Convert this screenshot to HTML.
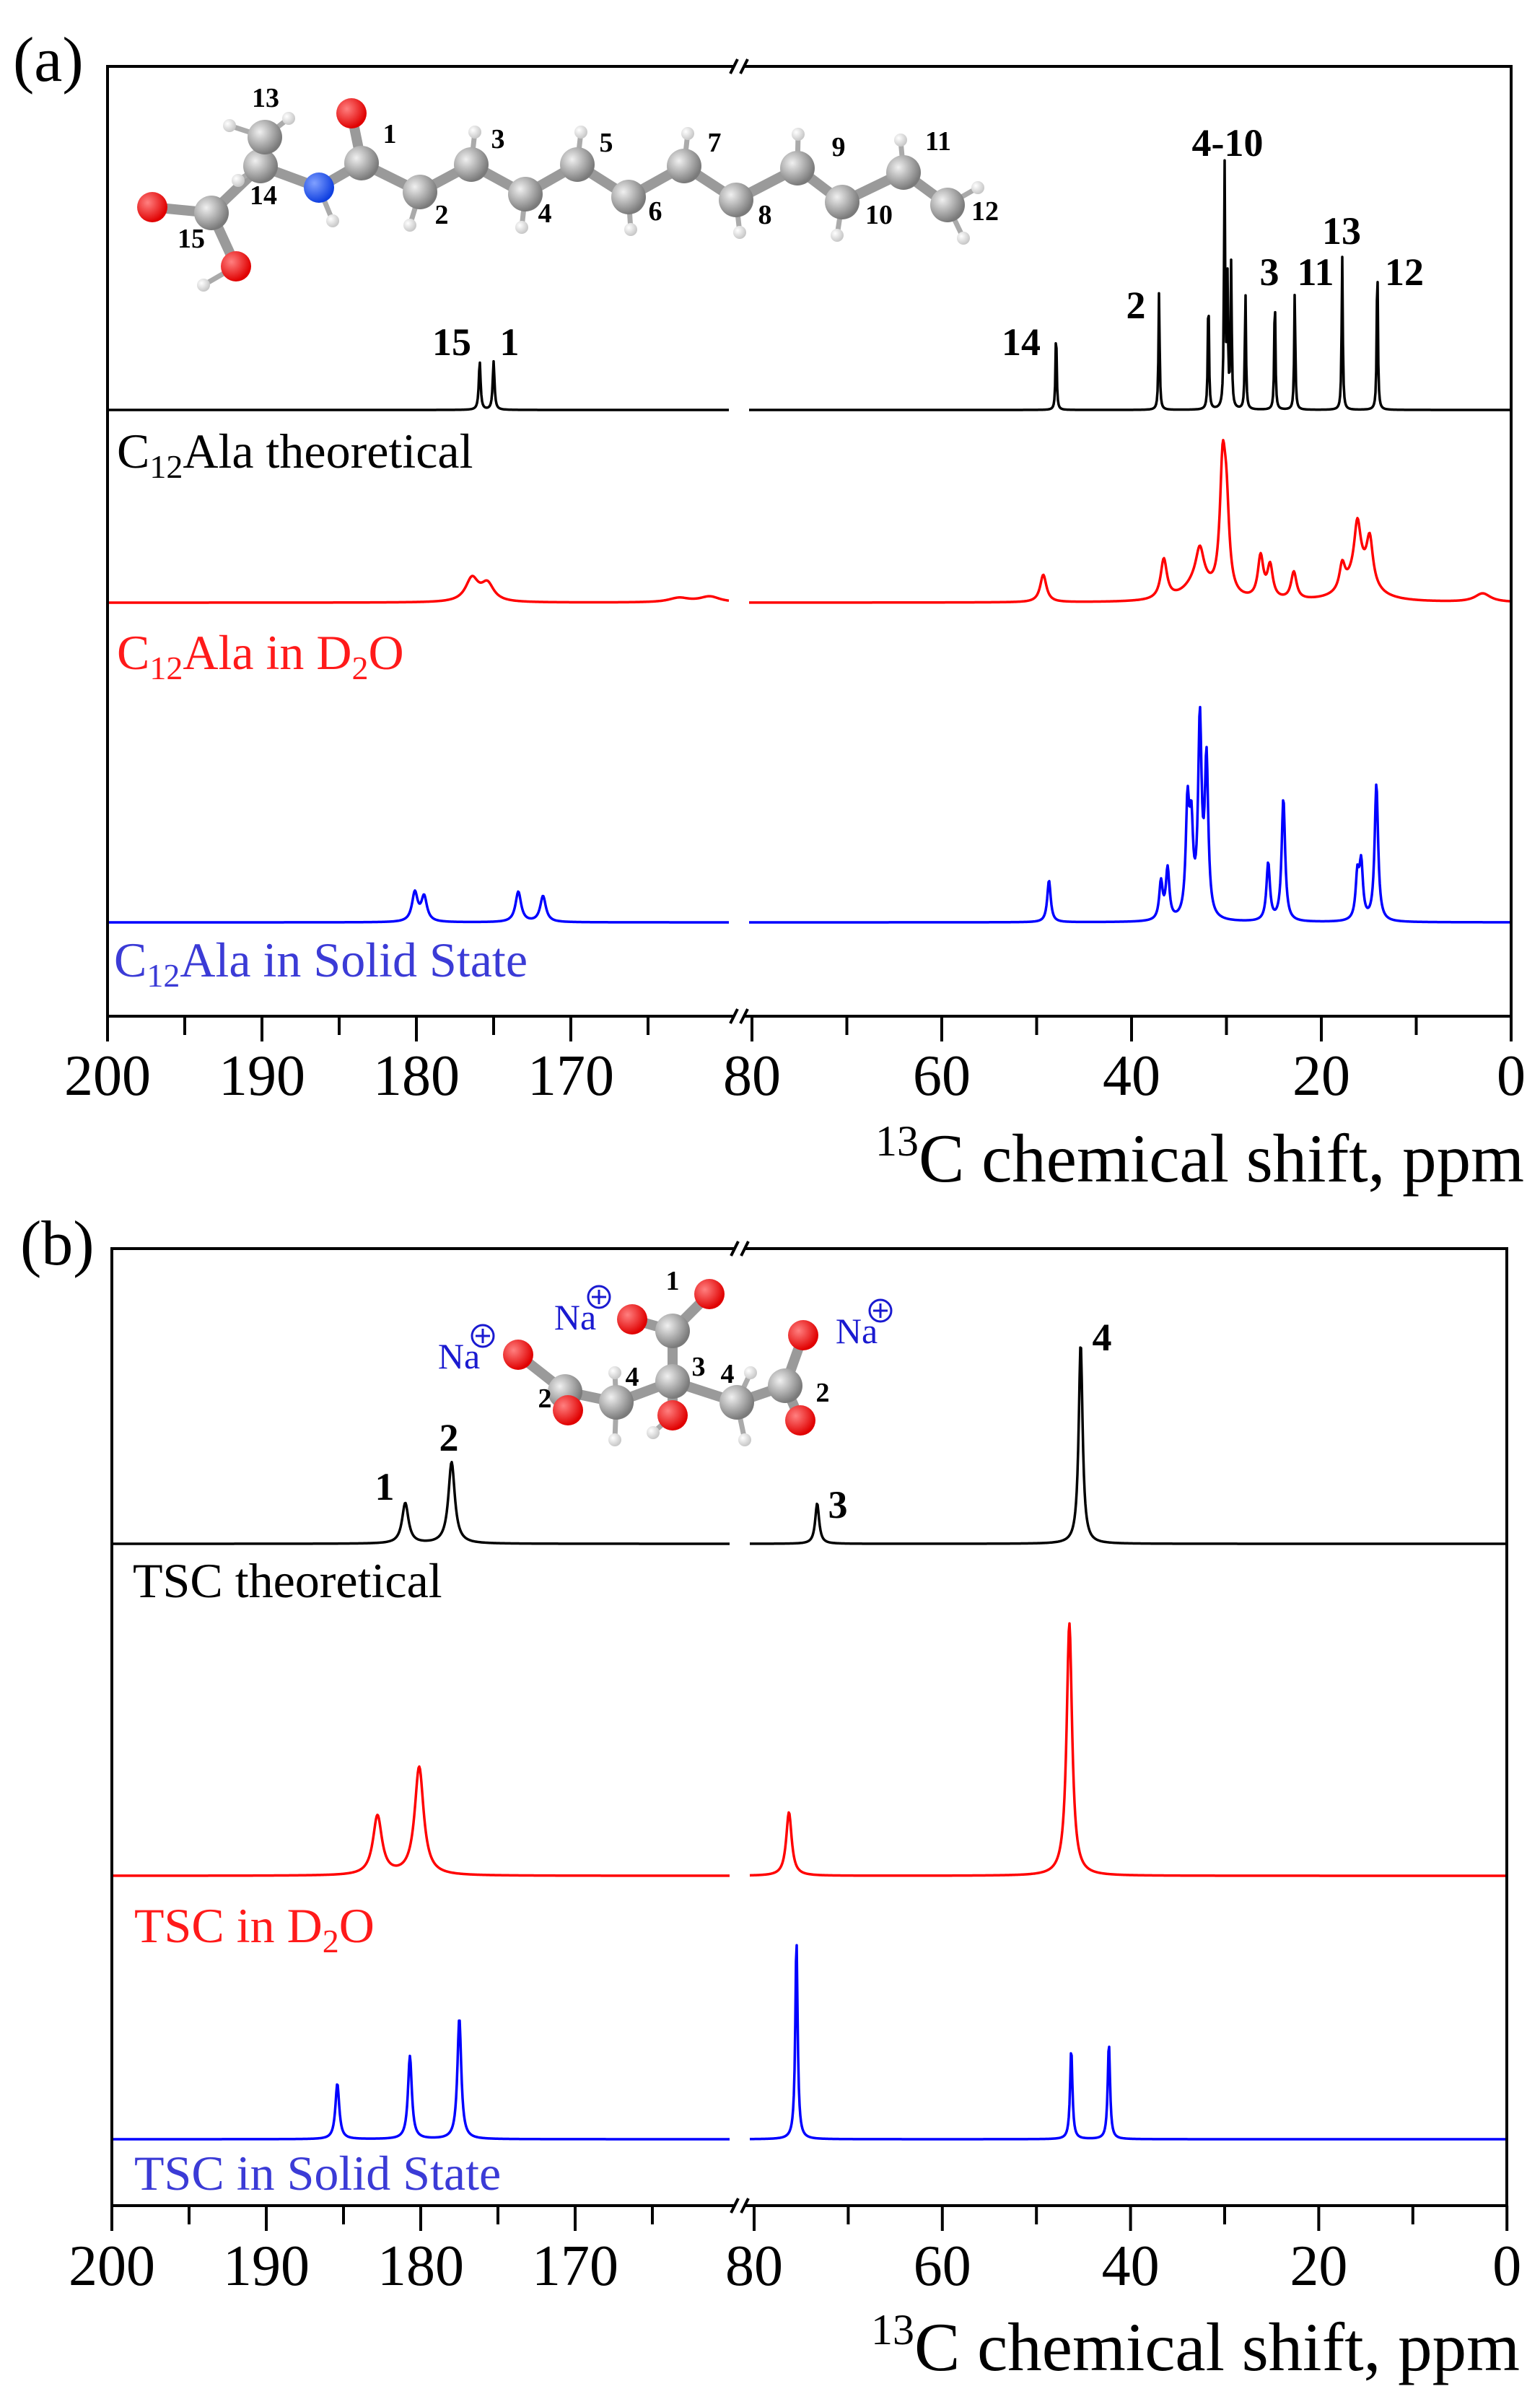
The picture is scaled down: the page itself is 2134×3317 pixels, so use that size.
<!DOCTYPE html>
<html><head><meta charset="utf-8">
<style>
html,body{margin:0;padding:0;background:#fff;}
svg{display:block;}
text{font-family:"Liberation Serif","Times New Roman",serif;}
</style></head>
<body>
<svg id="fig" xmlns="http://www.w3.org/2000/svg" width="2134" height="3317" viewBox="0 0 2134 3317">
<g id="molA"></g>
<g id="molB"></g>
</svg>
<script>
// ---------- DATA ----------
const tickMajorLeft = [200,190,180,170];
const tickMinorLeft = [195,185,175,165];
const tickMajorRight = [80,60,40,20,0];
const tickMinorRight = [70,50,30,10];

// Panel (a) peaks: ppm positions and intensities (a.u.)
const aTheoPpm = [175.9,175.0,47.95,37.1,31.9,30.2,29.9,29.5,28.0,24.9,22.8,17.8,14.1];
const aTheoInt = [67,67,115,165,165,340,180,200,165,165,165,213,213];
const aD2OPpm = [176.4,175.4,163,161,49.3,36.6,33,32.8,30.4,30.0,26.4,25.4,22.9,17.8,16,16.2,14.9,3];
const aD2OInt = [32,24,6,8,38,55,28,45,165,105,58,45,38,35,40,70,62,12];
const aD2OWid = [0.5,0.5,0.8,0.8,0.4,0.4,1.6,0.5,0.35,0.35,0.35,0.35,0.35,0.35,1.6,0.4,0.4,1.0];
const aSolPpm = [180.1,179.5,173.4,171.8,48.7,36.9,36.2,34.1,33.7,32.8,32.1,25.6,24.0,16.2,15.8,14.2];
const aSolInt = [40,34,42,36,58,52,70,150,115,270,215,80,170,60,75,190];

// Panel (b) peaks
const bTheoPpm = [181,178,73.3,45.3];
const bTheoInt = [56,113,56,278];
const bD2OPpm = [182.8,180.1,76.3,46.5];
const bD2OInt = [82,150,88,350];
const bSolPpm = [185.4,180.7,177.5,75.5,46.3,42.3];
const bSolInt = [77,115,168,276,125,133];

// ---------- HELPERS ----------
const NS="http://www.w3.org/2000/svg";
const svg=document.getElementById('fig');
function el(tag,attrs,parent){const e=document.createElementNS(NS,tag);for(const k in attrs)e.setAttribute(k,attrs[k]);(parent||svg).appendChild(e);return e;}

function makePanel(P){
  const xL=p=>P.left+(200-p)*P.kL;
  const xR=p=>P.r80+(80-p)*P.kR;
  P.xL=xL;P.xR=xR;
  const g=el('g',{});
  
  
  const fr=el('rect',{x:P.left,y:P.top,width:P.right-P.left,height:P.bottom-P.top,fill:'none',stroke:'#000','stroke-width':4},g);
  
  
  [P.top,P.bottom].forEach((yy,i)=>{
    const bg=el('g',{},g);
    
    
    el('rect',{x:P.brk-8,y:yy-4,width:16,height:8,fill:'#fff'},bg);
    el('line',{x1:P.brk-12,y1:yy+10,x2:P.brk-2,y2:yy-10,stroke:'#000','stroke-width':4},bg);
    el('line',{x1:P.brk+2,y1:yy+10,x2:P.brk+12,y2:yy-10,stroke:'#000','stroke-width':4},bg);
  });
  const tg=el('g',{},g);
  
  
  function tick(x,len,lab){
    el('line',{x1:x,y1:P.bottom,x2:x,y2:P.bottom+len,stroke:'#000','stroke-width':4},tg);
    if(lab!==undefined){
      const t=el('text',{x:x,y:P.tickY,'font-size':80,'text-anchor':'middle',fill:'#000'},tg);
      t.textContent=lab;
      
      
    }
  }
  tickMajorLeft.forEach(v=>tick(xL(v),35,String(v)));
  tickMinorLeft.forEach(v=>tick(xL(v),26));
  tickMajorRight.forEach(v=>tick(xR(v),35,String(v)));
  tickMinorRight.forEach(v=>tick(xR(v),26));
  const at=el('text',{x:P.right+18,y:P.titleY,'font-size':95,'text-anchor':'end',fill:'#000'},g);
  at.innerHTML='<tspan font-size="60" dy="-36">13</tspan><tspan dy="36">C  chemical shift, ppm</tspan>';
  
  
  const pl=el('text',{x:P.letterX,y:P.letterY,'font-size':88,fill:'#000'},g);
  pl.textContent=P.letter;
  
  
  return g;
}

function spectrum(P,ppm,ints,wid,base,color,name,sw){
  const f=p=>{let s=0;for(let i=0;i<ppm.length;i++){const w=Array.isArray(wid)?wid[i]:wid;const d=(p-ppm[i])/w;s+=ints[i]/(1+d*d);}return s;};
  let d='';
  for(let x=P.left+2;x<=P.brk-14;x+=1){const p=200-(x-P.left)/P.kL;d+=(d===''?'M':'L')+x+' '+(base-f(p)).toFixed(2);}
  let d2='';
  for(let x=P.brk+14;x<=P.right-2;x+=1){const p=80-(x-P.r80)/P.kR;d2+=(d2===''?'M':'L')+x+' '+(base-f(p)).toFixed(2);}
  const path=el('path',{d:d+' '+d2,fill:'none',stroke:color,'stroke-width':sw||3.5,'stroke-linejoin':'round'});
  
  
}

function label(x,y,html,color,size,name,weight,anchor){
  const t=el('text',{x:x,y:y,'font-size':size,fill:color,'font-weight':weight||'normal','text-anchor':anchor||'start'});
  t.innerHTML=html;
  
  
}

// ---------- PANEL A ----------
const PA={name:'panel-a',left:149,right:2094,top:92,bottom:1408,kL:21.4,r80:1042,kR:13.15,brk:1024,tickY:1517,titleY:1637,letter:'(a)',letterX:18,letterY:112};
makePanel(PA);
spectrum(PA,aTheoPpm,aTheoInt,0.07,568,'#000','c12ala-theoretical-spectrum',3.5);
spectrum(PA,aD2OPpm,aD2OInt,aD2OWid,835,'#ff0000','c12ala-d2o-spectrum',3.5);
spectrum(PA,aSolPpm,aSolInt,0.22,1278,'#0000ff','c12ala-solid-spectrum',3.5);
label(162,648,'C<tspan font-size="46" dy="14">12</tspan><tspan dy="-14">Ala theoretical</tspan>','#000',68,'c12ala-theoretical-label');
label(162,927,'C<tspan font-size="46" dy="14">12</tspan><tspan dy="-14">Ala in D</tspan><tspan font-size="46" dy="14">2</tspan><tspan dy="-14">O</tspan>','#ff1a1a',68,'c12ala-d2o-label');
label(158,1353,'C<tspan font-size="46" dy="14">12</tspan><tspan dy="-14">Ala in Solid State</tspan>','#3b3bd6',68,'c12ala-solid-label');
[['15',626,492],['1',706,492],['14',1415,492],['2',1574,441],['4-10',1701,216],['3',1759,395],['11',1823,395],['13',1859,338],['12',1946,395]].forEach(a=>label(a[1],a[2],a[0],'#000',54,'peak-label-a-'+a[0],'bold','middle'));

// ---------- PANEL B ----------
const PB={name:'panel-b',left:155,right:2088,top:1730,bottom:3056,kL:21.4,r80:1045,kR:13.04,brk:1025,tickY:3166,titleY:3284,letter:'(b)',letterX:28,letterY:1752};
makePanel(PB);
spectrum(PB,bTheoPpm,bTheoInt,0.25,2139,'#000','tsc-theoretical-spectrum',3.5);
spectrum(PB,bD2OPpm,bD2OInt,0.35,2599,'#ff0000','tsc-d2o-spectrum',3.5);
spectrum(PB,bSolPpm,bSolInt,0.15,2964,'#0000ff','tsc-solid-spectrum',3.5);
label(184,2213,'TSC  theoretical','#000',68,'tsc-theoretical-label');
label(186,2691,'TSC in D<tspan font-size="46" dy="14">2</tspan><tspan dy="-14">O</tspan>','#ff1a1a',68,'tsc-d2o-label');
label(186,3034,'TSC in Solid State','#3b3bd6',68,'tsc-solid-label');
[['1',533,2078],['2',622,2010],['3',1161,2103],['4',1527,1871]].forEach(a=>label(a[1],a[2],a[0],'#000',54,'peak-label-b-'+a[0],'bold','middle'));

// ---------- MOLECULES ----------
function molecule(gid,atoms,bonds,hs,labels,pref){
  const g=document.getElementById(gid);
  const defs=el('defs',{},g);
  [['gr','#f0f0f0','#7a7a7a'],['rd','#ff8080','#e00000'],['bl','#80a0ff','#1040e0'],['wh','#ffffff','#c8c8c8']].forEach(c=>{
    const rg=el('radialGradient',{id:pref+c[0],cx:'35%',cy:'35%',r:'65%'},defs);
    el('stop',{offset:'0','stop-color':c[1]},rg);el('stop',{offset:'1','stop-color':c[2]},rg);
  });
  bonds.forEach(b=>{const A=atoms[b[0]],B=atoms[b[1]];el('line',{x1:A[0],y1:A[1],x2:B[0],y2:B[1],stroke:'#9a9a9a','stroke-width':14,'stroke-linecap':'round'},g);});
  hs.forEach(h=>{const A=atoms[h[0]];el('line',{x1:A[0],y1:A[1],x2:h[1],y2:h[2],stroke:'#aaa','stroke-width':7},g);el('circle',{cx:h[1],cy:h[2],r:9,fill:'url(#'+pref+'wh)'},g);});
  atoms.forEach(a=>{const r=a[2]==='gr'?24:21;el('circle',{cx:a[0],cy:a[1],r:r,fill:'url(#'+pref+a[2]+')'},g);});
  labels.forEach(l=>{const t=el('text',{x:l[1],y:l[2],'font-size':l[3]||38,'font-weight':'bold','text-anchor':'middle',fill:l[4]||'#000'},g);t.textContent=l[0];});
}
molecule('molA',
 [[487,157,'rd'],[501,226,'gr'],[442,260,'bl'],[361,230,'gr'],[367,190,'gr'],[293,295,'gr'],[211,287,'rd'],[327,369,'rd'],
  [582,266,'gr'],[653,228,'gr'],[728,269,'gr'],[800,228,'gr'],[871,273,'gr'],[948,230,'gr'],[1020,277,'gr'],[1105,233,'gr'],[1167,280,'gr'],[1252,239,'gr'],[1313,284,'gr']],
 [[0,1],[1,2],[2,3],[3,4],[3,5],[5,6],[5,7],[1,8],[8,9],[9,10],[10,11],[11,12],[12,13],[13,14],[14,15],[15,16],[16,17],[17,18]],
 [[4,318,174],[4,400,164],[3,330,250],[2,461,306],[7,282,395],[8,568,312],[9,658,183],[10,723,315],[11,805,183],[12,874,318],[13,953,185],[14,1025,322],[15,1106,186],[16,1160,326],[17,1248,194],[18,1335,330],[18,1355,260]],
 [['13',368,148],['1',540,198],['14',365,283],['15',265,343],['2',612,310],['3',690,205],['4',755,308],['5',840,210],['6',908,305],['7',990,210],['8',1060,310],['9',1162,216],['10',1218,310],['11',1300,208],['12',1365,305]],'ma');
molecule('molB',
 [[718,1877,'rd'],[783,1928,'gr'],[787,1954,'rd'],[854,1943,'gr'],[932,1914,'gr'],[932,1961,'rd'],[932,1844,'gr'],[983,1793,'rd'],[876,1828,'rd'],[1021,1943,'gr'],[1088,1920,'gr'],[1113,1850,'rd'],[1109,1968,'rd']],
 [[0,1],[1,2],[1,3],[3,4],[4,5],[4,6],[6,7],[6,8],[4,9],[9,10],[10,11],[10,12]],
 [[3,852,1902],[3,852,1995],[9,1040,1902],[9,1032,1995],[5,905,1985]],
 [['1',932,1787],['2',755,1950],['4',876,1920],['3',968,1906],['4',1008,1916],['2',1140,1942]],'mb');
[[636,1896],[797,1842],[1187,1861]].forEach((p,i)=>{
  const t=el('text',{x:p[0],y:p[1],'font-size':50,'text-anchor':'middle',fill:'#1a1ad0'},document.getElementById('molB'));
  t.textContent='Na';
  
  
  const c=el('g',{},document.getElementById('molB'));
  el('circle',{cx:p[0]+33,cy:p[1]-45,r:15,fill:'none',stroke:'#1a1ad0','stroke-width':3},c);
  el('line',{x1:p[0]+23,y1:p[1]-45,x2:p[0]+43,y2:p[1]-45,stroke:'#1a1ad0','stroke-width':3},c);
  el('line',{x1:p[0]+33,y1:p[1]-55,x2:p[0]+33,y2:p[1]-35,stroke:'#1a1ad0','stroke-width':3},c);
});
</script>
</body></html>
